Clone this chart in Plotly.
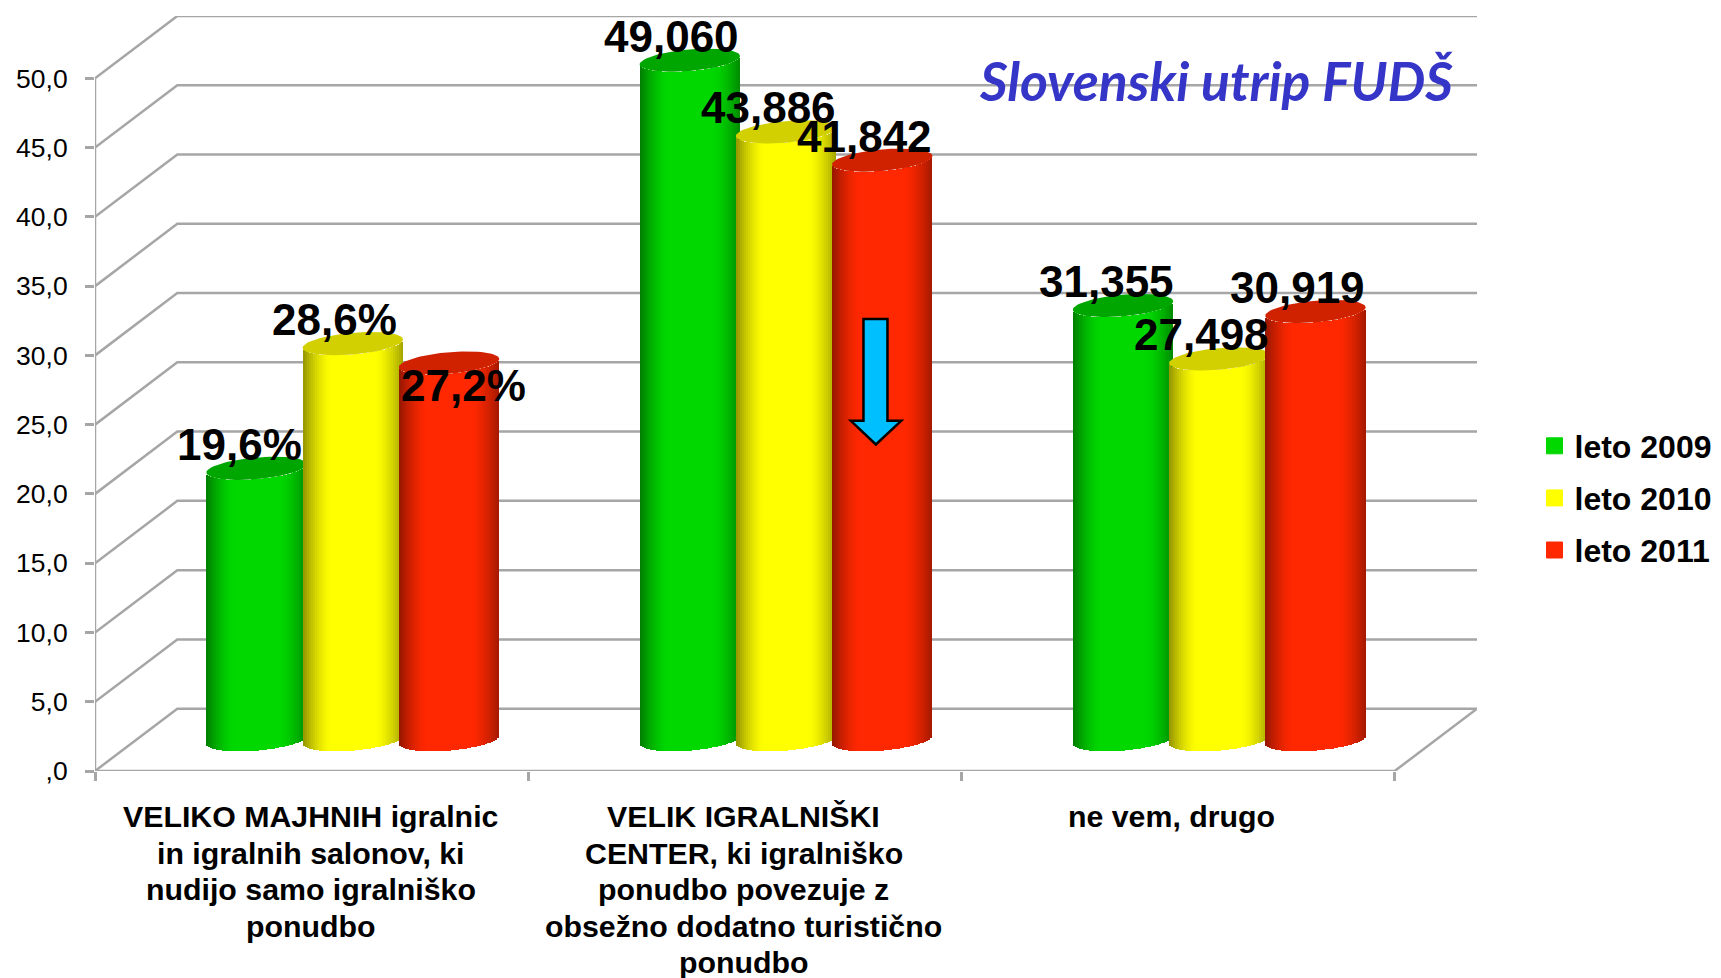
import numpy as np
import plotly.graph_objects as go

# ---- data ----
categories = [["VELIKO MAJHNIH igralnic", "in igralnih salonov, ki", "nudijo samo igralniško", "ponudbo"],
              ["VELIK IGRALNIŠKI", "CENTER, ki igralniško", "ponudbo povezuje z", "obsežno dodatno turistično", "ponudbo"],
              ["ne vem, drugo"]]
series_names = ["leto 2009", "leto 2010", "leto 2011"]
values_2009 = [19.6, 49.06, 31.355]
values_2010 = [28.6, 43.886, 27.498]
values_2011 = [27.2, 41.842, 30.919]
labels_2009 = ["19,6%", "49,060", "31,355"]
labels_2010 = ["28,6%", "43,886", "27,498"]
labels_2011 = ["27,2%", "41,842", "30,919"]
y_ticks = [0, 5, 10, 15, 20, 25, 30, 35, 40, 45, 50]
y_tick_text = [",0", "5,0", "10,0", "15,0", "20,0", "25,0", "30,0", "35,0", "40,0", "45,0", "50,0"]

# ---- styles ----
colors = [(0, 216, 0), (255, 255, 0), (255, 40, 0)]
cap_colors = ["#00A600", "#D2D000", "#D02200"]
GRID = "#A6A6A6"
FONT = "Liberation Sans"
OFF = 8                     # the page's own body margin
W, H = 1721 - OFF, 978 - OFF
L, R, T, B = 95 - OFF, 244.3, 16 - OFF, 207.3
DX, DY = 0.19, 4.5          # depth of the box in axis units
XMAX, YMAX = 3 + DX, 54.5
PXX = (W - L - R) / XMAX
PXY = (H - T - B) / YMAX
RAD = 50.2 / PXX            # cylinder radius (x units)
STEP = 96.2 / PXX           # spacing of series in a group
TILT = 4.2 / PXY            # ellipse tilt (y units)
MINOR = 10.8 / PXY          # ellipse semi-minor (y units)
N = 50

values = [values_2009, values_2010, values_2011]
labels = [labels_2009, labels_2010, labels_2011]
label_shift = [[(-17, 24), (-18, 24), (-17, 24)],
               [(-18, 24), (-18, 24), (-18, 24)],
               [(15, -22), (-18, 24), (-18, 24)]]
category_shift = [-1, -1, -7]


def shade(rgb, u):
    k = 0.42 if u < 0 else 0.36
    f = 1 - k * np.clip((abs(u) - 0.45) / 0.55, 0, 1) ** 1.5
    return "rgb(%d,%d,%d)" % tuple(int(c * f) for c in rgb)


fig = go.Figure()

# box: grid lines + left wall + floor + axes
gx, gy = [], []
for v in y_ticks:
    gx += [0, DX, XMAX, None]
    gy += [v, v + DY, v + DY, None]
gx += [0, 3, XMAX, None, 0, 0]
gy += [0, 0, DY, None, 0, 50]
fig.add_trace(go.Scatter(x=gx, y=gy, mode="lines", line=dict(color=GRID, width=2.5),
                         cliponaxis=False, showlegend=False, hoverinfo="skip"))

# cylinders: one overlay subplot per series so that they stack left to right
u = (np.arange(N) + 0.5) / N * 2 - 1
for s, vals in enumerate(values):
    xa, ya = f"x{s + 2}", f"y{s + 2}"
    bx, bb, bh, bc = [], [], [], []
    for g, v in enumerate(vals):
        cx = g + 0.5 + DX / 2 + (s - 1) * STEP
        base = DY / 2
        for ui in u:
            low = TILT * ui - MINOR * np.sqrt(1 - ui * ui)
            bx.append(cx + ui * RAD)
            bb.append(base + low)
            bh.append(v)
            bc.append(shade(colors[s], ui))
    fig.add_trace(go.Bar(x=bx, y=bh, base=bb, width=2 * RAD / N, xaxis=xa, yaxis=ya,
                         marker=dict(color=bc, line=dict(width=0)),
                         showlegend=False, hoverinfo="skip"))
    # elliptic tops
    t = np.linspace(0, 2 * np.pi, 73)
    ex, ey = [], []
    for g, v in enumerate(vals):
        cx = g + 0.5 + DX / 2 + (s - 1) * STEP
        ex += list(cx + RAD * np.cos(t)) + [None]
        ey += list(v + DY / 2 + TILT * np.cos(t) + MINOR * np.sin(t)) + [None]
    fig.add_trace(go.Scatter(x=ex, y=ey, mode="lines", fill="toself", fillcolor=cap_colors[s],
                             line=dict(width=0), xaxis=xa, yaxis=ya,
                             showlegend=False, hoverinfo="skip"))

# legend entries
for s, name in enumerate(series_names):
    fig.add_trace(go.Scatter(x=[None], y=[None], mode="markers", name=name, legendgroup=name,
                             marker=dict(symbol="square", size=16, color="rgb(%d,%d,%d)" % colors[s],
                                         line=dict(width=1, color="rgb(%d,%d,%d)" % colors[s]))))


def px(x):   # page pixel -> paper
    return (x - 95) / (W - L - R)


def py(y):
    return (770.7 - y) / (H - T - B)


# data labels
ann = []
for s, vals in enumerate(values):
    for g, v in enumerate(vals):
        cx = g + 0.5 + DX / 2 + (s - 1) * STEP
        ann.append(dict(x=cx, y=v + DY / 2, text=f"<b>{labels[s][g]}</b>", showarrow=False,
                        xanchor="center", yanchor="middle",
                        xshift=label_shift[s][g][0], yshift=label_shift[s][g][1],
                        font=dict(family=FONT, size=44, color="black")))
# category labels, one line at a time (tight line spacing)
for g, lines in enumerate(categories):
    for k, line in enumerate(lines):
        ann.append(dict(xref="x", yref="paper", x=g + 0.5, xshift=category_shift[g], y=py(816.6 + k * 36.5),
                        text=f"<b>{line}</b>", showarrow=False, xanchor="center", yanchor="middle",
                        font=dict(family=FONT, size=30.3, color="black")))
ann.append(dict(xref="paper", yref="paper", x=px(1455), y=py(80),
                text="<b><i>Slovenski utrip FUDŠ</i></b>", showarrow=False,
                xanchor="right", yanchor="middle",
                font=dict(family="Lato", size=53.5, color="#3535C8")))

arrow = [(863.3, 319), (887.3, 319), (887.3, 420.7), (901, 420.7), (875.7, 444.3), (850.7, 420.7), (863.3, 420.7)]
path = "M " + " L ".join(f"{px(a):.5f},{py(b):.5f}" for a, b in arrow) + " Z"

hidden = dict(visible=False, overlaying="x", range=[0, XMAX], automargin=False)
hiddeny = dict(visible=False, overlaying="y", range=[0, YMAX], automargin=False)
fig.update_layout(
    width=W, height=H, paper_bgcolor="white", plot_bgcolor="white",
    margin=dict(l=L, r=R, t=T, b=B, pad=0),
    barmode="overlay", bargap=0,
    annotations=ann,
    shapes=[dict(type="path", xref="paper", yref="paper", path=path, fillcolor="#00BFFF",
                 line=dict(color="black", width=2.5), layer="above")],
    legend=dict(xref="container", yref="container", x=(1534.5 - OFF) / W, y=1 - (418.5 - OFF) / H,
                xanchor="left", yanchor="top",
                font=dict(family=FONT, size=32, color="black", weight="bold"),
                tracegroupgap=7.5, bgcolor="rgba(0,0,0,0)", itemclick=False),
    xaxis=dict(range=[0, XMAX], tickvals=[0, 1, 2, 3], ticktext=["", "", "", ""], ticks="outside", automargin=False,
               ticklen=9, tickwidth=2.5, tickcolor=GRID, showgrid=False, zeroline=False, showline=False),
    yaxis=dict(range=[0, YMAX], tickvals=y_ticks, ticktext=y_tick_text, ticks="outside", automargin=False,
               ticklen=9, tickwidth=2.5, tickcolor=GRID, showgrid=False, zeroline=False, showline=False,
               tickfont=dict(family=FONT, size=26.5, color="black"), ticklabelstandoff=12),
    xaxis2=dict(hidden, anchor="y2"), yaxis2=dict(hiddeny, anchor="x2"),
    xaxis3=dict(hidden, anchor="y3"), yaxis3=dict(hiddeny, anchor="x3"),
    xaxis4=dict(hidden, anchor="y4"), yaxis4=dict(hiddeny, anchor="x4"),
)
fig.write_html("out.html")
